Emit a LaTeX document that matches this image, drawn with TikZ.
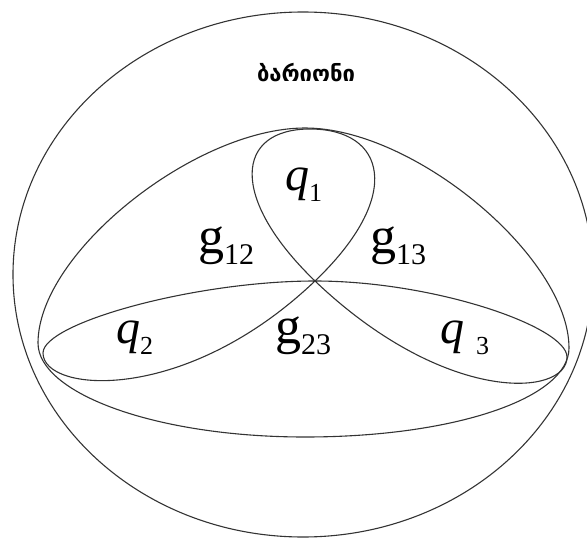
\documentclass[tikz,border=0pt]{standalone}
\usepackage{fontspec}
\setmainfont{Liberation Serif}
\newfontfamily\geofont{DejaVu Sans}
\newcommand{\qsub}[1]{\raisebox{-11pt}{\fontsize{26}{26}\selectfont\upshape #1}}
\newcommand{\gsub}[1]{\raisebox{-11pt}{\fontsize{30}{30}\selectfont #1}}
\tikzset{
  bag/.style={draw=black!80, line width=1.1pt},
  qlabel/.style={anchor=base west, inner sep=0pt, font=\fontsize{48}{48}\selectfont\itshape},
  glabel/.style={anchor=base west, inner sep=0pt, font=\fontsize{52}{52}\selectfont},
  title/.style={inner sep=0pt, font=\geofont\bfseries\fontsize{22}{22}\selectfont},
}
\begin{document}
\begin{tikzpicture}[x=1pt, y=-1pt]
    \useasboundingbox (0,0) rectangle (587,538);
    \clip (0,0) rectangle (587,538);
    % meeting point and tips of the loops
    \coordinate (c)  at (315,281);
    \coordinate (t1) at (310,129);
    \coordinate (t2) at (43,353);
    \coordinate (t3) at (567,357);
    % baryon
    \draw[bag] (303,274.5) ellipse [x radius=290, y radius=262.5];
    \node[title] (baryon) at (306,73) {ბარიონი};
    % gluon bag
    \draw[bag] (38,343) .. controls (38,253) and (195,128) .. (305,128)
        .. controls (415,128) and (569,258) .. (569,348)
        .. controls (569,398) and (455,437) .. (305,437)
        .. controls (155,437) and (38,393) .. cycle;
    % quark loops
    \draw[bag] (c) .. controls (229,198) and (235,129) .. (t1)
        .. controls (385,129) and (405,195) .. (c);
    \draw[bag] (c) .. controls (195,281) and (43,323) .. (t2)
        .. controls (43,393) and (185,405) .. (c);
    \draw[bag] (c) .. controls (435,281) and (567,327) .. (t3)
        .. controls (567,397) and (445,405) .. (c);
    % labels
    \node[qlabel] (q1) at (285,190) {q\qsub{1}};
    \node[qlabel] (q2) at (116,343) {q\qsub{2}};
    \node[qlabel] (q3) at (440,343) {q\hspace{12pt}\qsub{3}};
    \node[glabel] (g12) at (198,253) {g\gsub{12}};
    \node[glabel] (g13) at (370,253) {g\gsub{13}};
    \node[glabel] (g23) at (275,343) {g\gsub{23}};
\end{tikzpicture}
\end{document}
